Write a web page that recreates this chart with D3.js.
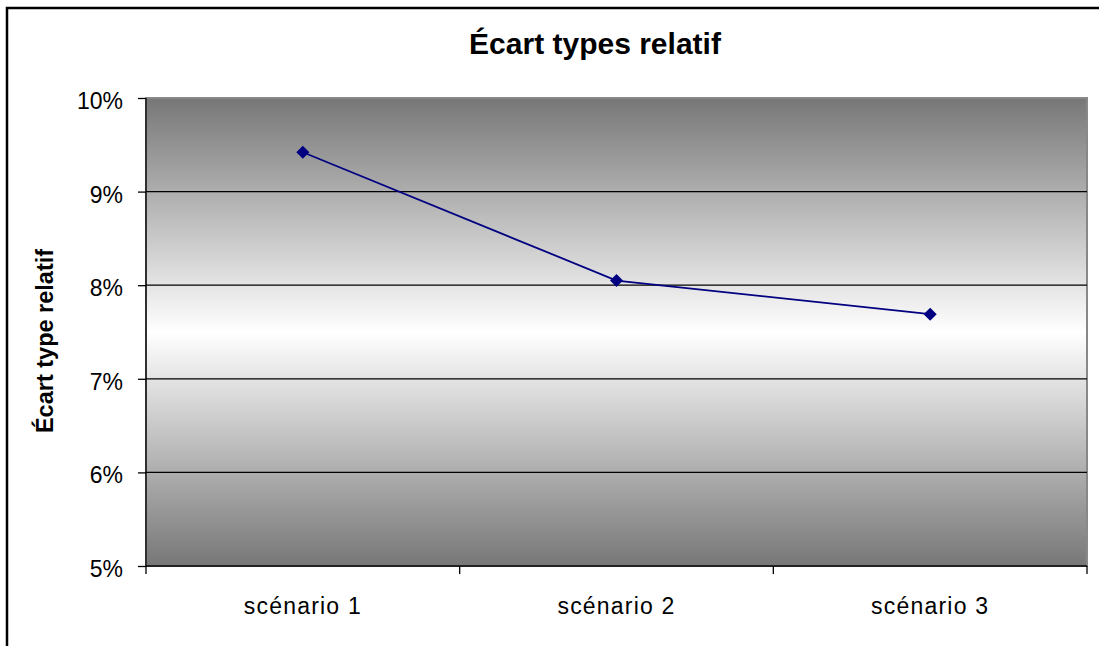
<!DOCTYPE html>
<html><head><meta charset="utf-8">
<script src="https://cdnjs.cloudflare.com/ajax/libs/d3/7.8.5/d3.min.js"></script>
<style>body{margin:0;background:#fff}svg{display:block}text{font-family:"Liberation Sans",Arial,sans-serif}</style>
</head><body>
<script>
const categories = ["scénario 1", "scénario 2", "scénario 3"];
const values = [0.0942, 0.0805, 0.0769];
const yTicks = [0.05, 0.06, 0.07, 0.08, 0.09, 0.10];
const titleText = "Écart types relatif";
const yLabel = "Écart type relatif";

const W = 1099, H = 646;
const m = {left: 146, top: 98, right: 1087, bottom: 566};
const svg = d3.select("body").append("svg").attr("width", W).attr("height", H);

svg.append("rect").attr("x", 7).attr("y", 8).attr("width", 1200).attr("height", 700)
  .attr("fill", "#fff").attr("stroke", "#000").attr("stroke-width", 2.5);

const defs = svg.append("defs");
const g = defs.append("linearGradient").attr("id", "bg").attr("x1", 0).attr("y1", 0).attr("x2", 0).attr("y2", 1);
g.append("stop").attr("offset", "0%").attr("stop-color", "#777");
g.append("stop").attr("offset", "50%").attr("stop-color", "#fff");
g.append("stop").attr("offset", "100%").attr("stop-color", "#777");

const x = d3.scaleBand().domain(categories).range([m.left, m.right]).padding(0);
const y = d3.scaleLinear().domain([0.05, 0.10]).range([m.bottom, m.top]);

svg.append("rect").attr("x", m.left).attr("y", m.top).attr("width", m.right - m.left).attr("height", m.bottom - m.top)
  .attr("fill", "url(#bg)").attr("stroke", "#888").attr("stroke-width", 2);

svg.append("g").selectAll("line").data(yTicks.slice(1, -1)).join("line")
  .attr("x1", m.left).attr("x2", m.right).attr("y1", d => y(d)).attr("y2", d => y(d))
  .attr("stroke", "#000").attr("stroke-width", 1.3);

const yAxis = svg.append("g").attr("transform", `translate(${m.left},0)`)
  .call(d3.axisLeft(y).tickValues(yTicks).tickFormat(d3.format(".0%")).tickSize(8).tickPadding(15));
yAxis.select(".domain").attr("stroke", "#000").attr("stroke-width", 1.3).attr("d", `M0,${m.top}V${m.bottom}`);
yAxis.selectAll("text").attr("font-size", 23).attr("fill", "#000").attr("dy", "0.46em")
  .attr("font-family", "Liberation Sans, Arial, sans-serif");
yAxis.selectAll("line").attr("stroke", "#000").attr("stroke-width", 1.3);

const xAxis = svg.append("g").attr("transform", `translate(0,${m.bottom})`);
xAxis.append("line").attr("x1", m.left).attr("x2", m.right).attr("stroke", "#000").attr("stroke-width", 1.3);
const bounds = categories.map(c => x(c)).concat([m.right]);
xAxis.selectAll(".tk").data(bounds).join("line").attr("class", "tk")
  .attr("x1", d => d).attr("x2", d => d).attr("y1", 0).attr("y2", 8).attr("stroke", "#000").attr("stroke-width", 1.3);
xAxis.selectAll("text").data(categories).join("text")
  .attr("x", d => x(d) + x.bandwidth() / 2).attr("y", 48).attr("text-anchor", "middle")
  .attr("font-size", 23).attr("letter-spacing", 1.2).attr("fill", "#000").text(d => d);

const line = d3.line().x((d, i) => x(categories[i]) + x.bandwidth() / 2).y(d => y(d));
svg.append("path").datum(values).attr("d", line).attr("fill", "none").attr("stroke", "#000080").attr("stroke-width", 1.8);
svg.append("g").selectAll("path").data(values).join("path")
  .attr("d", d3.symbol(d3.symbolSquare, 85))
  .attr("transform", (d, i) => `translate(${x(categories[i]) + x.bandwidth() / 2},${y(d)}) rotate(45)`)
  .attr("fill", "#000080");

svg.append("text").attr("x", 595).attr("y", 54).attr("text-anchor", "middle")
  .attr("font-size", 30).attr("font-weight", "bold").text(titleText);
svg.append("text").attr("transform", "translate(53,341) rotate(-90)").attr("text-anchor", "middle")
  .attr("font-size", 23.5).attr("font-weight", "bold").text(yLabel);
</script>
</body></html>
